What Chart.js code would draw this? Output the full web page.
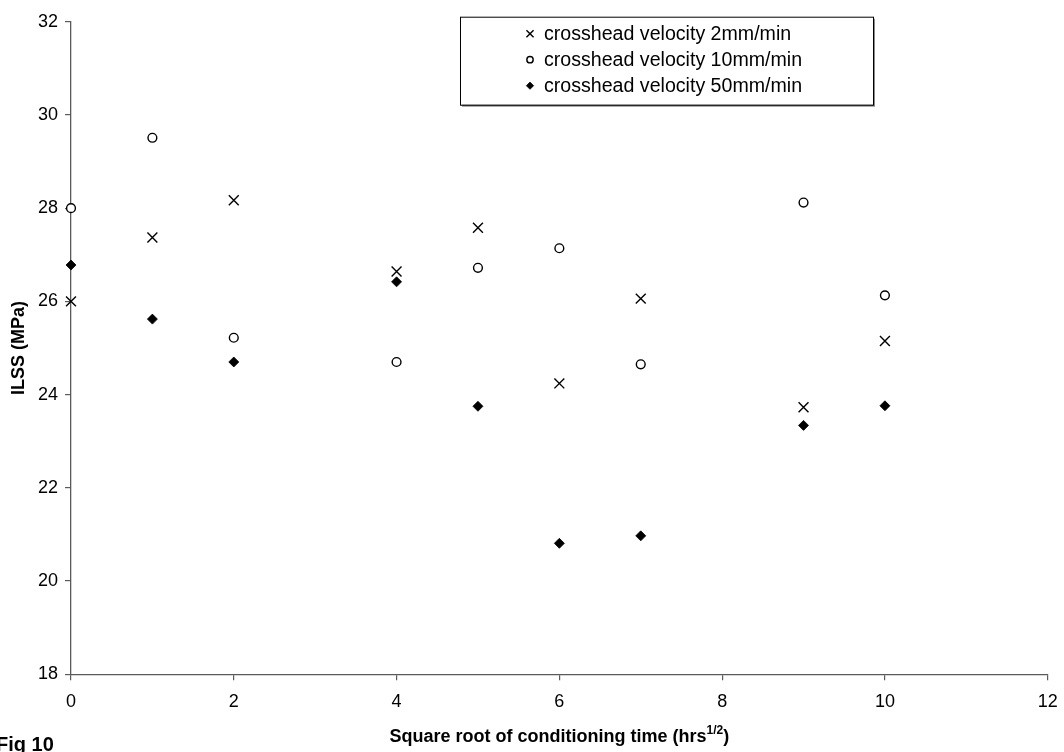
<!DOCTYPE html>
<html>
<head>
<meta charset="utf-8">
<title>ILSS vs conditioning time</title>
<script src="https://cdn.jsdelivr.net/npm/chart.js@4.4.1/dist/chart.umd.min.js"></script>
<style>
  html, body { margin: 0; padding: 0; background: #fff; }
  #wrap { width: 1064px; height: 752px; }
</style>
</head>
<body>
<div id="wrap"><canvas id="ilss-chart" width="1064" height="752"></canvas></div>
<script>
// square root of conditioning time (hrs^1/2)
const rootTime = [0, 1, 2, 4, 5, 6, 7, 9, 10];
// ILSS (MPa) for each crosshead velocity
const ilss2 = [26.0, 27.37, 28.17, 26.64, 27.58, 24.24, 26.06, 23.73, 25.15];
const ilss10 = [28.0, 29.51, 25.22, 24.7, 26.72, 27.14, 24.65, 28.12, 26.13];
const ilss50 = [26.78, 25.62, 24.7, 26.42, 23.75, 20.81, 20.97, 23.34, 23.76];
const seriesLabels = [
  "crosshead velocity 2mm/min",
  "crosshead velocity 10mm/min",
  "crosshead velocity 50mm/min",
];
const xTicks = { min: 0, max: 12, step: 2 };
const yTicks = { min: 18, max: 32, step: 2 };

const FONT = "'Liberation Sans', Arial, sans-serif";
const AXIS_COLOR = "#5a5a5a";

function toPoints(ys) {
  return rootTime.map((x, i) => ({ x, y: ys[i] }));
}

// Boxed legend with shadow, drawn inside the plot, plus x title and figure label
const extrasPlugin = {
  id: "extras",
  afterDraw(chart) {
    const ctx = chart.ctx;
    const area = chart.chartArea;

    // legend box
    const bx = area.left + 389;
    const by = area.top - 5;
    const bw = 413;
    const bh = 88;
    ctx.save();
    ctx.fillStyle = "#8a8a8a";
    ctx.fillRect(bx + 2, by + 2, bw, bh);
    ctx.fillStyle = "#fff";
    ctx.fillRect(bx, by, bw, bh);
    ctx.strokeStyle = "#000";
    ctx.lineWidth = 1;
    ctx.strokeRect(bx + 0.5, by + 0.5, bw, bh);

    ctx.font = "19.6px " + FONT;
    ctx.textBaseline = "middle";
    ctx.textAlign = "left";
    chart.data.datasets.forEach((ds, i) => {
      const cy = by + 17 + i * 26;
      const mx = bx + 70;
      ctx.fillStyle = ds.pointBackgroundColor;
      ctx.strokeStyle = ds.pointBorderColor;
      ctx.lineWidth = ds.pointBorderWidth;
      Chart.helpers.drawPoint(ctx, {
        pointStyle: ds.pointStyle,
        radius: ds.pointRadius * 0.72,
        rotation: 0,
        borderWidth: ds.pointBorderWidth,
      }, mx, cy);
      ctx.fillStyle = "#000";
      ctx.fillText(ds.label, mx + 14, cy + 1);
    });

    // x axis title with superscript exponent
    const main = "Square root of conditioning time (hrs";
    const sup = "1/2";
    const end = ")";
    ctx.textBaseline = "alphabetic";
    ctx.font = "bold 18px " + FONT;
    const wMain = ctx.measureText(main).width;
    const wEnd = ctx.measureText(end).width;
    ctx.font = "bold 12px " + FONT;
    const wSup = ctx.measureText(sup).width;
    const cx = (area.left + area.right) / 2;
    let tx = cx - (wMain + wSup + wEnd) / 2;
    const baseY = area.bottom + 68;
    ctx.fillStyle = "#000";
    ctx.font = "bold 18px " + FONT;
    ctx.fillText(main, tx, baseY);
    tx += wMain;
    ctx.font = "bold 12px " + FONT;
    ctx.fillText(sup, tx, baseY - 8);
    tx += wSup;
    ctx.font = "bold 18px " + FONT;
    ctx.fillText(end, tx, baseY);

    // figure label in the bottom-left corner
    ctx.font = "bold 20px " + FONT;
    ctx.fillText("Fig 10", -4, chart.height - 1);
    ctx.restore();
  },
};

const commonPoint = {
  showLine: false,
  clip: false,
  pointBorderColor: "#000",
};

new Chart(document.getElementById("ilss-chart").getContext("2d"), {
  type: "scatter",
  data: {
    datasets: [
      {
        ...commonPoint,
        label: seriesLabels[0],
        data: toPoints(ilss2),
        pointStyle: "crossRot",
        pointRadius: 7,
        pointBorderWidth: 1.4,
        pointBackgroundColor: "#000",
      },
      {
        ...commonPoint,
        label: seriesLabels[1],
        data: toPoints(ilss10),
        pointStyle: "circle",
        pointRadius: 4.4,
        pointBorderWidth: 1.4,
        pointBackgroundColor: "#fff",
      },
      {
        ...commonPoint,
        label: seriesLabels[2],
        data: toPoints(ilss50),
        pointStyle: "rectRot",
        pointRadius: 5,
        pointBorderWidth: 0.8,
        pointBackgroundColor: "#000",
      },
    ],
  },
  options: {
    responsive: false,
    devicePixelRatio: 1,
    animation: false,
    layout: { padding: { left: 0, top: 21.7, right: 16.3, bottom: 0 } },
    plugins: {
      legend: { display: false },
      tooltip: { enabled: false },
    },
    scales: {
      x: {
        type: "linear",
        min: xTicks.min,
        max: xTicks.max,
        afterFit: (scale) => {
          scale.height = 77.7;
          // let the layout padding alone decide the right margin
          scale.paddingLeft = 0;
          scale.paddingRight = 0;
        },
        ticks: {
          stepSize: xTicks.step,
          color: "#000",
          font: { family: FONT, size: 18 },
          padding: 11,
          maxRotation: 0,
        },
        grid: {
          drawOnChartArea: false,
          tickLength: 6,
          color: AXIS_COLOR,
          lineWidth: 1.2,
        },
        border: { color: AXIS_COLOR, width: 1.3 },
        title: { display: false },
      },
      y: {
        type: "linear",
        min: yTicks.min,
        max: yTicks.max,
        afterFit: (scale) => { scale.width = 71; },
        ticks: {
          stepSize: yTicks.step,
          color: "#000",
          font: { family: FONT, size: 18 },
          padding: 7,
        },
        grid: {
          drawOnChartArea: false,
          tickLength: 6,
          color: AXIS_COLOR,
          lineWidth: 1.2,
        },
        border: { color: AXIS_COLOR, width: 1.3 },
        title: {
          display: true,
          text: "ILSS (MPa)",
          color: "#000",
          font: { family: FONT, size: 18, weight: "bold" },
          padding: { top: 8, bottom: 0 },
        },
      },
    },
  },
  plugins: [extrasPlugin],
});
</script>
</body>
</html>
